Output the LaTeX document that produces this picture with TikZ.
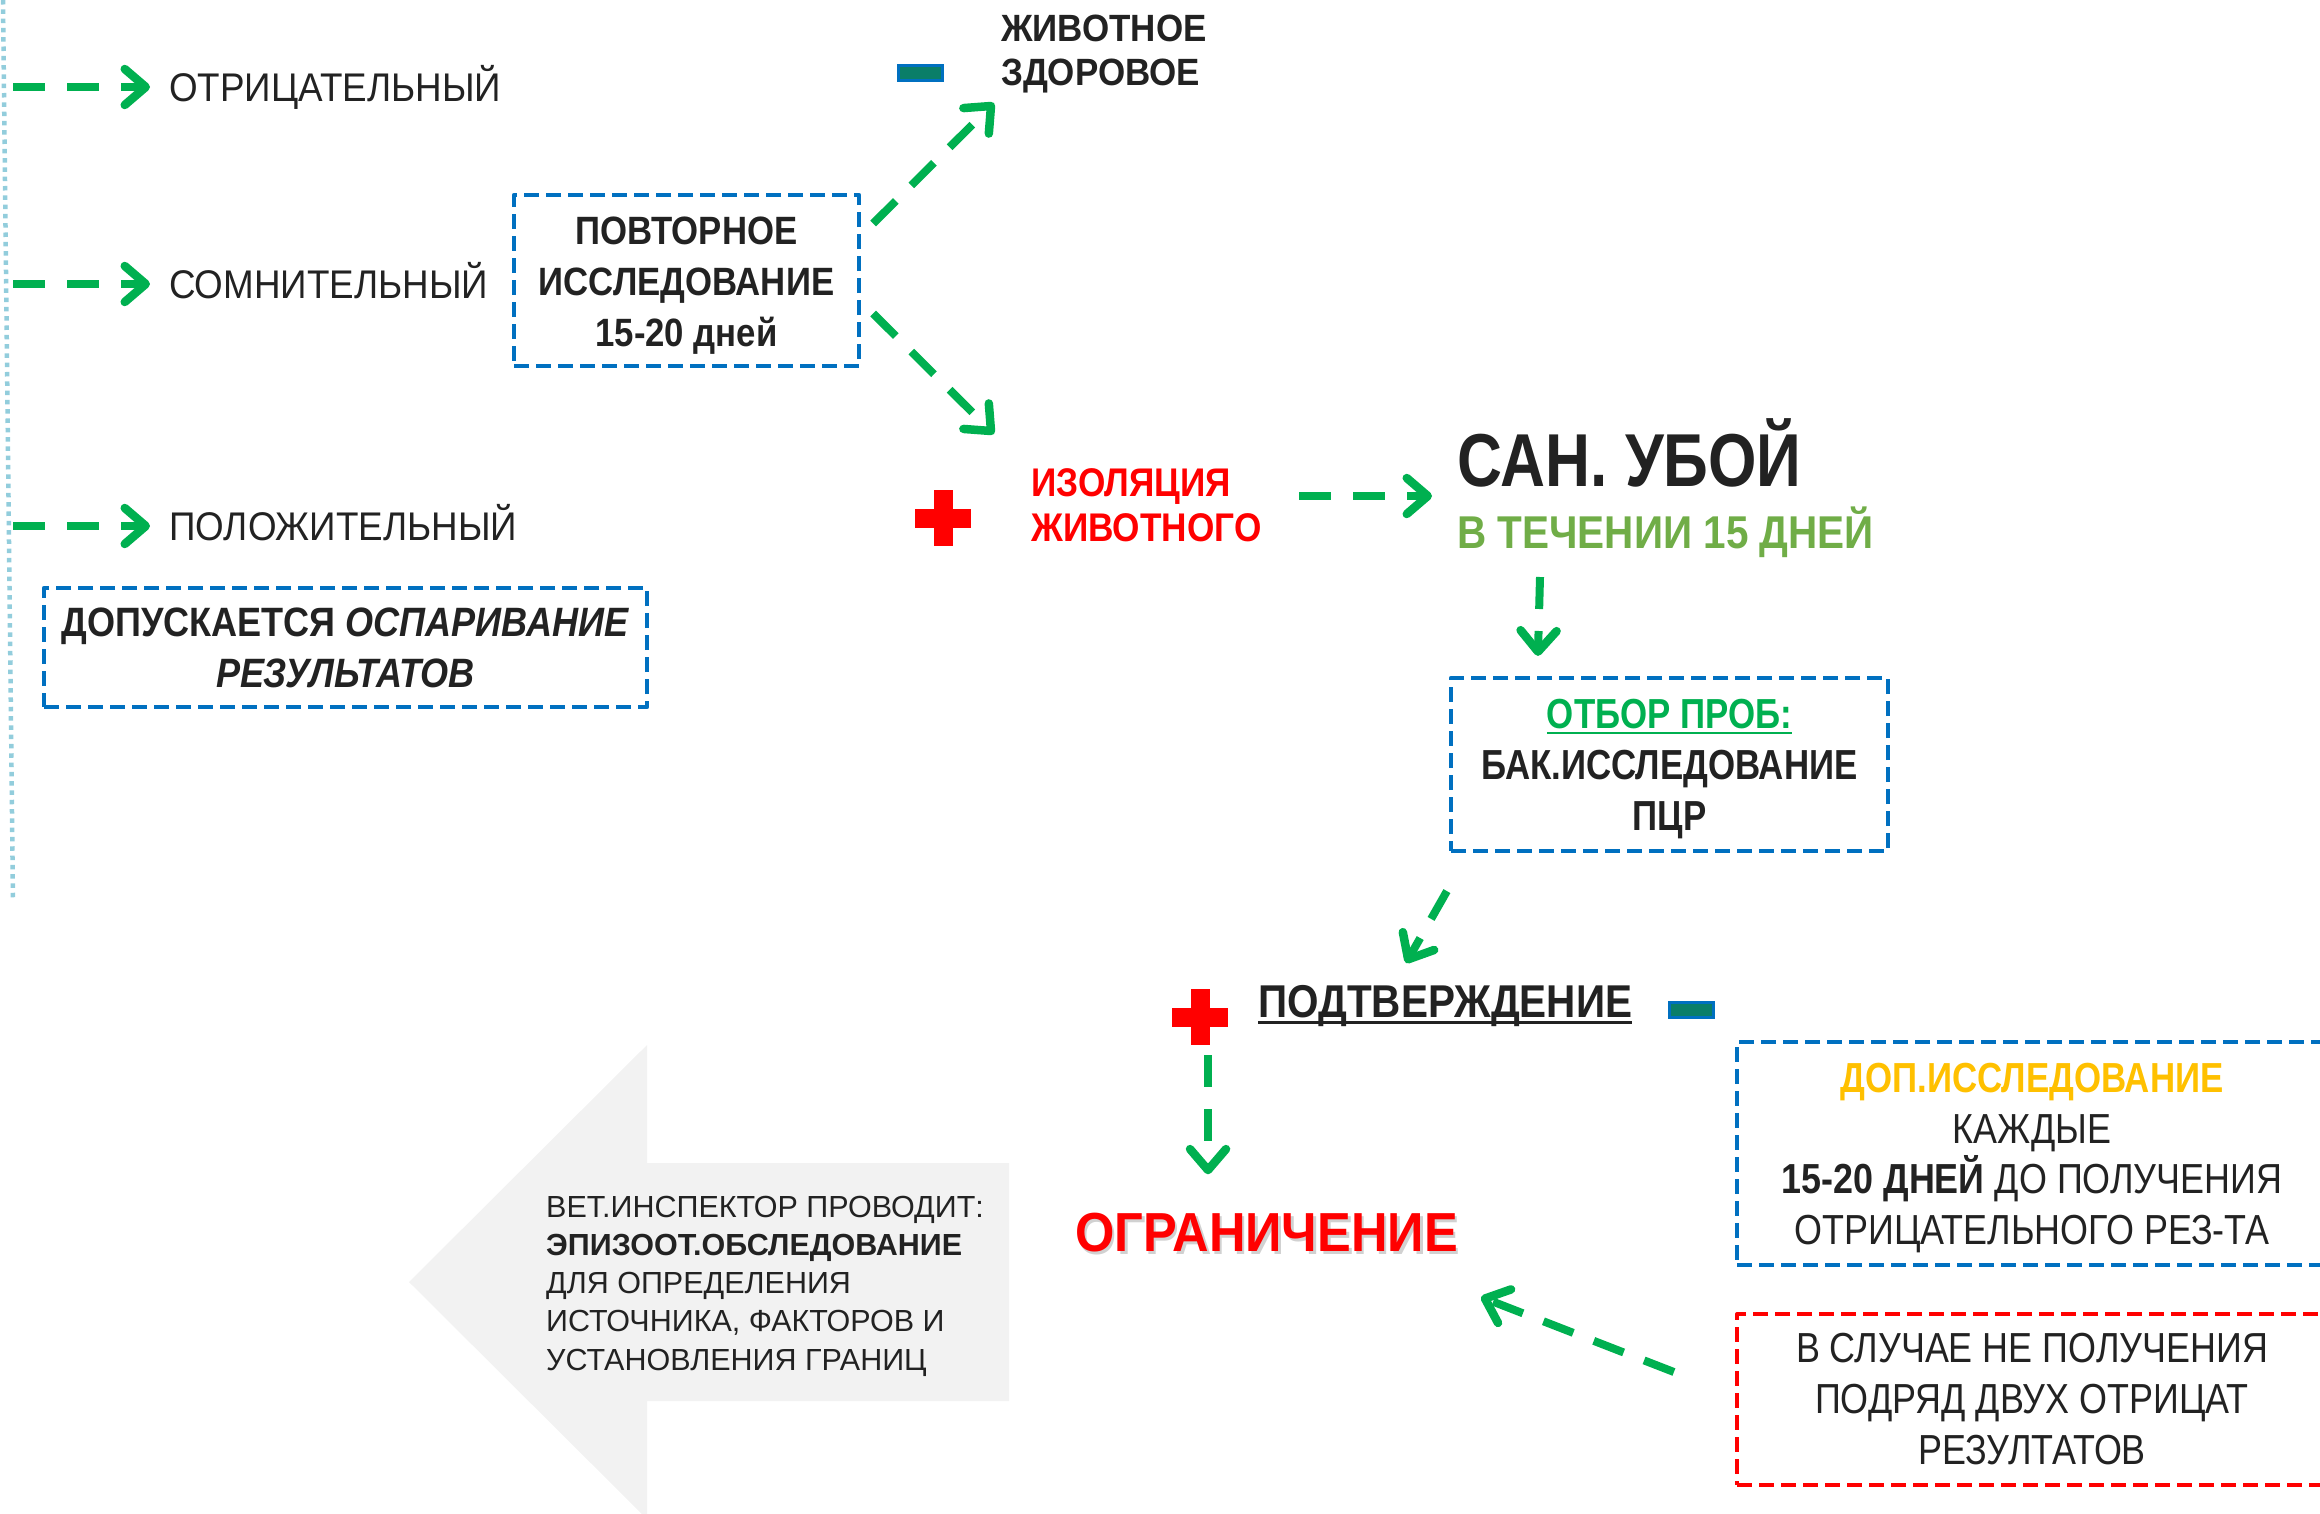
\documentclass[tikz,border=0pt]{standalone}
\usepackage{fontspec}
\setmainfont{Liberation Sans}[FakeStretch=0.88]
\newfontfamily\fW{Liberation Sans}[FakeStretch=1.0]
\newfontfamily\fM{Liberation Sans}[FakeStretch=0.92]
\newfontfamily\fN{Liberation Sans}[FakeStretch=0.83]
\newfontfamily\fR{Liberation Sans}[FakeStretch=0.855]
\newcommand\myul[1]{\leavevmode\setbox0\hbox{#1}\rlap{\vrule height -3.5pt depth 6pt width \wd0}\box0}
\usetikzlibrary{arrows.meta,calc}
\definecolor{cgreen}{HTML}{00B050}
\definecolor{cblue}{HTML}{0070C0}
\definecolor{cred}{HTML}{FF0000}
\definecolor{cdark}{HTML}{222222}
\definecolor{colive}{HTML}{70AD47}
\definecolor{cgold}{HTML}{FFC000}
\definecolor{cteal}{HTML}{0A7E68}
\definecolor{cdot}{HTML}{92CDDC}
\definecolor{cgrey}{HTML}{F2F2F2}
\begin{document}
\begin{tikzpicture}[x=1pt,y=-1pt,
  garrow/.style={draw=cgreen, line width=8pt, dash pattern=on 32pt off 22pt,
    -{Straight Barb[length=21pt,width=36pt,line width=8.5pt,round]}},
  dashbox/.style={line width=4.2pt, dash pattern=on 15pt off 7pt, line join=round, align=center, inner sep=0pt, text=cdark},
  bbox/.style={dashbox, draw=cblue},
  rbox/.style={dashbox, draw=cred},
  lbl/.style={inner sep=0pt, anchor=west, text depth=0pt, text=cdark},
  minus/.style={rectangle, fill=cteal, draw=cblue, line width=3pt, minimum width=44pt, minimum height=15pt, inner sep=0pt},
  plus/.style={minimum size=56pt, inner sep=0pt,
    path picture={\fill[cred] ($(path picture bounding box.center)+(-28,-9.5)$) rectangle +(56,19);
                  \fill[cred] ($(path picture bounding box.center)+(-9.5,-28)$) rectangle +(19,56);}},
]
\useasboundingbox (0,0) rectangle (2320,1513);
\begin{scope}
\clip (0,0) rectangle (2320,1513);
% grey arrow
\fill[cgrey] (1009,1163) -- (647,1163) -- (647,1045) -- (409,1282) -- (647,1519) -- (647,1401) -- (1009,1401) -- cycle;
% dotted line
\draw[cdot, line width=4.5pt, dash pattern=on 4.5pt off 4.8pt] (3,0) -- (13,902);

% left column
\coordinate (s1) at (13,87);
\coordinate (s2) at (13,284);
\coordinate (s3) at (13,526);
\node[lbl, font=\fM\fontsize{40}{48}\selectfont, text height=28.6pt] (t1) at (169,87) {ОТРИЦАТЕЛЬНЫЙ};
\node[lbl, font=\fM\fontsize{40}{48}\selectfont, text height=28.6pt] (t2) at (169,284) {СОМНИТЕЛЬНЫЙ};
\node[lbl, font=\fM\fontsize{40}{48}\selectfont, text height=28.6pt] (t3) at (169,526) {ПОЛОЖИТЕЛЬНЫЙ};
\draw[garrow, shorten >=19pt] (s1) -- (t1.west);
\draw[garrow, shorten >=19pt] (s2) -- (t2.west);
\draw[garrow, shorten >=19pt] (s3) -- (t3.west);

\node[bbox, minimum width=603pt, minimum height=119pt, font=\bfseries\fontsize{41}{51}\selectfont] (B2) at (345.5,647.5)
  {ДОПУСКАЕТСЯ \textit{ОСПАРИВАНИЕ}\\\textit{РЕЗУЛЬТАТОВ}};

\node[bbox, minimum width=345pt, minimum height=171pt, font=\bfseries\fontsize{39.5}{51}\selectfont] (B1) at (686.5,280.5)
  {\rule{0pt}{37pt}ПОВТОРНОЕ\\ИССЛЕДОВАНИЕ\\15-20 дней};

% top middle
\node[minus] (m1) at (920.5,72.5) {};
\node[inner sep=0pt, anchor=west, align=left, text=cdark, font=\fM\bfseries\fontsize{38}{44.5}\selectfont] (zd) at (1001,54) {ЖИВОТНОЕ\\ЗДОРОВОЕ};

\node[plus] (c1) at (943,518) {};
\node[inner sep=0pt, anchor=west, align=left, text=cred, font=\bfseries\fontsize{40}{44.5}\selectfont] (iso) at (1031,505) {ИЗОЛЯЦИЯ\\ЖИВОТНОГО};

\draw[garrow] ($(B1.east)+(12,-57)$) -- ($(zd.west)+(-7,49)$);
\draw[garrow] ($(B1.east)+(12,33)$) -- ($(iso.west)+(-37,-71)$);

% right column
\node[lbl, font=\fN\bfseries\fontsize{75}{90}\selectfont, text height=54pt] (san) at (1457,459) {САН. УБОЙ};
\node[lbl, text=colive, font=\bfseries\fontsize{46}{55}\selectfont, text height=33pt] (tech) at (1457,532) {В ТЕЧЕНИИ 15 ДНЕЙ};
\draw[garrow] ($(iso.west)+(268,-9)$) -- ($(san.west)+(-25,37)$);

\node[bbox, minimum width=437pt, minimum height=173pt, font=\fN\bfseries\fontsize{42}{51}\selectfont] (B3) at (1669.5,764.5)
  {\rule{0pt}{38pt}{\color{cgreen}\myul{ОТБОР ПРОБ:}}\\БАК.ИССЛЕДОВАНИЕ\\ПЦР};
\draw[garrow] ($(tech.west)+(83,45)$) -- ($(B3.north west)+(89,-20)$);

\node[plus] (c2) at (1200,1017) {};
\node[lbl, font=\bfseries\fontsize{46}{55}\selectfont, text height=33pt] (podt) at (1258,1001) {\myul{ПОДТВЕРЖДЕНИЕ}};
\node[minus] (m2) at (1691.5,1010) {};
\draw[garrow] ($(B3.south west)+(-2,38)$) -- ($(podt.west)+(148,-38)$);

\node[inner sep=0pt, text=gray!60, opacity=0.6, text height=39pt, text depth=0pt, font=\fM\bfseries\fontsize{55}{66}\selectfont] (ogrs) at (1269,1235) {ОГРАНИЧЕНИЕ};
\node[inner sep=0pt, text=cred, text height=39pt, text depth=0pt, font=\fM\bfseries\fontsize{55}{66}\selectfont] (ogr) at (1266.5,1232) {ОГРАНИЧЕНИЕ};
\draw[garrow] ($(c2.south)+(8,10)$) -- ($(ogr.north)+(-58.5,-38)$);

\node[bbox, minimum width=590pt, minimum height=223pt, font=\fR\fontsize{42}{50.5}\selectfont] (B4) at (2032,1153.5)
  {\rule{0pt}{38pt}{\fN\bfseries\color{cgold}ДОП.ИССЛЕДОВАНИЕ}\\КАЖДЫЕ\\{\bfseries 15-20 ДНЕЙ} ДО ПОЛУЧЕНИЯ\\ОТРИЦАТЕЛЬНОГО РЕЗ-ТА};
\node[rbox, minimum width=590pt, minimum height=171pt, font=\fR\fontsize{42}{51}\selectfont] (B5) at (2032,1399.5)
  {В СЛУЧАЕ НЕ ПОЛУЧЕНИЯ\\ПОДРЯД ДВУХ ОТРИЦАТ\\РЕЗУЛТАТОВ};
\draw[garrow] ($(B5.west)+(-61,-27.5)$) -- ($(ogr.center)+(214.5,65)$);

\node[inner sep=0pt, anchor=west, align=left, text=cdark, font=\fW\fontsize{30.5}{38.2}\selectfont] (vet) at (546,1286)
  {ВЕТ.ИНСПЕКТОР ПРОВОДИТ:\\\textbf{ЭПИЗООТ.ОБСЛЕДОВАНИЕ}\\ДЛЯ ОПРЕДЕЛЕНИЯ\\ИСТОЧНИКА, ФАКТОРОВ И\\УСТАНОВЛЕНИЯ ГРАНИЦ};
\end{scope}
\end{tikzpicture}
\end{document}
